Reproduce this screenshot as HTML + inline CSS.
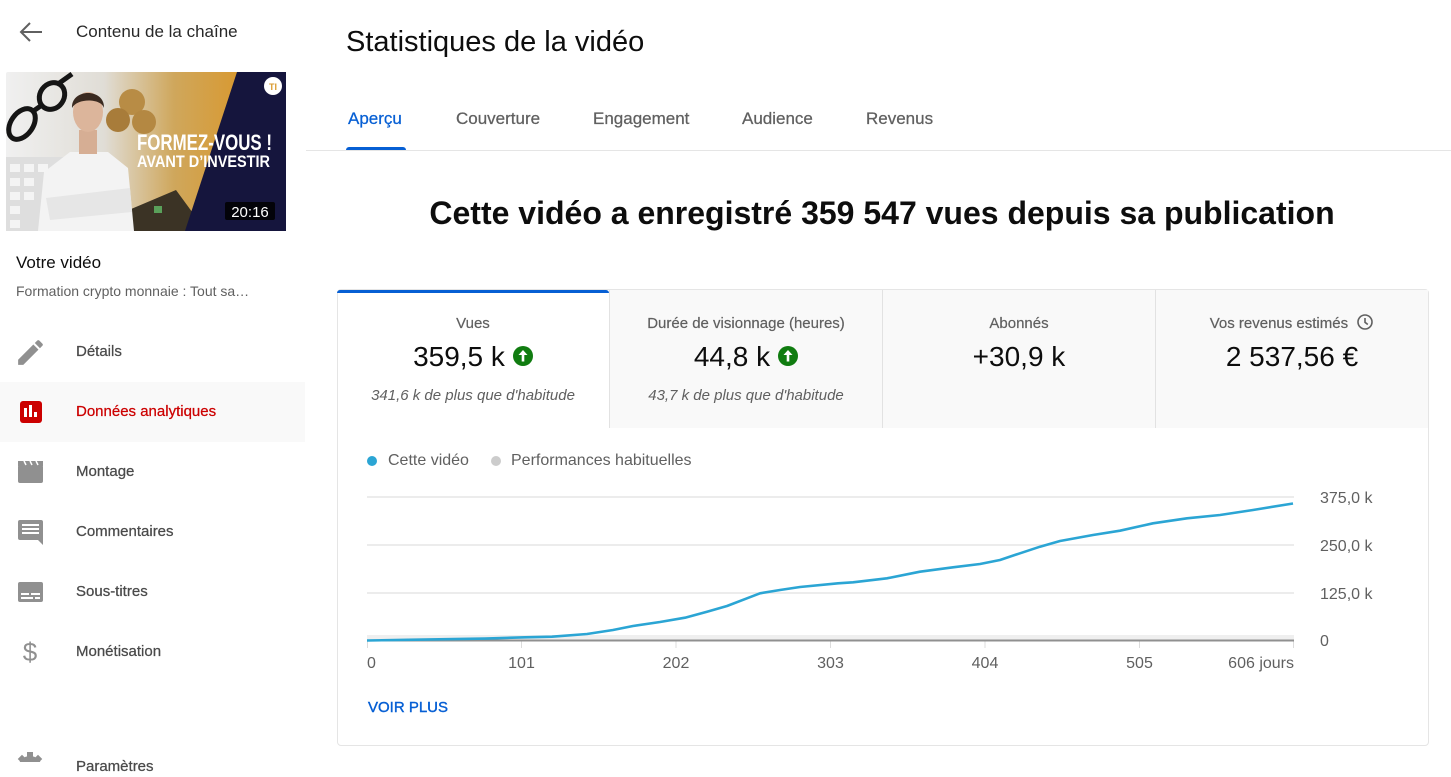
<!DOCTYPE html>
<html><head><meta charset="utf-8">
<style>
*{margin:0;padding:0;box-sizing:border-box}
body{width:1451px;height:762px;overflow:hidden;background:#fff;font-family:"Liberation Sans",Arial,sans-serif;position:relative;color:#0d0d0d}
.a{position:absolute;white-space:nowrap}
.t{position:absolute;white-space:nowrap;line-height:20px;height:20px}
.m{font-size:15px;color:#4a4a4a;-webkit-text-stroke:0.25px #4a4a4a}
.lab{font-size:15px;color:#606060;-webkit-text-stroke:0.2px #606060;text-align:center}
.val{font-size:28px;color:#0d0d0d;text-align:center;line-height:34px;height:34px}
.it{font-size:15px;color:#606060;font-style:italic;text-align:center}
.tab{font-size:17px;color:#606060;-webkit-text-stroke:0.25px #606060}
.up{display:inline-block;width:20px;height:20px;border-radius:50%;background:#107c10;vertical-align:middle;position:relative;top:-3px;margin-left:8px}
</style></head><body>

<!-- Sidebar -->
<svg class="a" style="left:0;top:0" width="305" height="762">
  <g stroke="#606060" stroke-width="2" fill="none">
    <line x1="21" y1="32" x2="42" y2="32"/>
    <polyline points="30,23 21,32 30,41"/>
  </g>
</svg>
<div class="t" style="left:76px;top:22px;font-size:17px;color:#282828">Contenu de la chaîne</div>

<!-- Thumbnail -->
<svg class="a" style="left:6px;top:72px" width="280" height="159" viewBox="0 0 280 159">
  <defs>
    <linearGradient id="bg" x1="0" y1="0" x2="1" y2="0">
      <stop offset="0" stop-color="#f0f0f0"/>
      <stop offset="0.35" stop-color="#e0ddd6"/>
      <stop offset="0.6" stop-color="#cfa75c"/>
      <stop offset="0.85" stop-color="#d9982e"/>
    </linearGradient>
  </defs>
  <rect width="280" height="159" rx="2" fill="url(#bg)"/>
  <!-- keyboard -->
  <rect x="0" y="85" width="70" height="74" fill="#dedede"/>
  <g fill="#f4f4f4">
    <rect x="4" y="92" width="10" height="8"/><rect x="18" y="92" width="10" height="8"/><rect x="32" y="92" width="10" height="8"/>
    <rect x="4" y="106" width="10" height="8"/><rect x="18" y="106" width="10" height="8"/>
    <rect x="4" y="120" width="10" height="8"/><rect x="18" y="120" width="10" height="8"/>
    <rect x="4" y="134" width="10" height="8"/><rect x="4" y="148" width="10" height="8"/>
  </g>
  <!-- glasses -->
  <g stroke="#151515" stroke-width="5" fill="none">
    <ellipse cx="16" cy="52" rx="11" ry="17" transform="rotate(35 16 52)"/>
    <ellipse cx="46" cy="24" rx="12" ry="14" transform="rotate(35 46 24)"/>
    <line x1="26" y1="40" x2="36" y2="33"/>
    <line x1="52" y1="12" x2="66" y2="2"/>
  </g>
  <!-- coins -->
  <circle cx="126" cy="30" r="13" fill="#b88c45"/>
  <circle cx="112" cy="48" r="12" fill="#a87c3a"/>
  <circle cx="138" cy="50" r="12" fill="#b48842"/>
  <!-- calculator -->
  <polygon points="118,140 170,118 200,159 122,159" fill="#3b3325"/>
  <rect x="148" y="134" width="8" height="7" fill="#5aa05a"/>
  <!-- person -->
  <polygon points="32,159 38,100 64,80 102,80 122,96 128,159" fill="#f3f3f3"/>
  <polygon points="40,126 124,116 126,140 44,148" fill="#e6e6e6"/>
  <rect x="73" y="58" width="18" height="24" fill="#d6ae94"/>
  <ellipse cx="82" cy="40" rx="15" ry="20" fill="#dcb59b"/>
  <path d="M66,36 C65,16 99,16 98,36 C95,26 71,26 66,36 Z" fill="#3a2a20"/>
  <!-- navy -->
  <polygon points="231,0 280,0 280,159 179,159" fill="#15153d"/>
  <text x="131" y="78" font-family="Liberation Sans, sans-serif" font-weight="bold" font-size="22" fill="#fff" textLength="135" lengthAdjust="spacingAndGlyphs">FORMEZ-VOUS !</text>
  <text x="131" y="95" font-family="Liberation Sans, sans-serif" font-weight="bold" font-size="17" fill="#fff" textLength="133" lengthAdjust="spacingAndGlyphs">AVANT D’INVESTIR</text>
  <rect x="219" y="130" width="50" height="18" rx="2" fill="rgba(0,0,0,0.85)"/>
  <text x="244" y="145" text-anchor="middle" font-family="Liberation Sans, sans-serif" font-size="15" fill="#fff">20:16</text>
  <circle cx="267" cy="14" r="9" fill="#fff"/>
  <text x="267" y="18" text-anchor="middle" font-family="Liberation Sans, sans-serif" font-weight="bold" font-size="9" fill="#d99a2e">TI</text>
</svg>

<div class="t" style="left:16px;top:253px;font-size:17px;color:#0d0d0d">Votre vidéo</div>
<div class="t" style="left:16px;top:281px;font-size:14px;color:#606060">Formation crypto monnaie : Tout sa…</div>

<div class="a" style="left:0;top:382px;width:305px;height:60px;background:#f9f9f9"></div>

<svg class="a" style="left:0;top:330px" width="60" height="432" viewBox="0 330 60 432">
  <svg x="14" y="336" width="33" height="33" viewBox="0 0 24 24"><path fill="#909090" d="M3 17.25V21h3.75L17.81 9.94l-3.75-3.75L3 17.25zM20.71 7.04c.39-.39.39-1.020 0-1.41l-2.34-2.34c-.39-.39-1.02-.39-1.41 0l-1.83 1.83 3.75 3.75 1.83-1.830z"/></svg>
  <rect x="20" y="401" width="22" height="22" rx="3" fill="#cc0000"/>
  <rect x="24" y="408" width="3" height="9" fill="#fff"/>
  <rect x="29" y="405" width="3" height="12" fill="#fff"/>
  <rect x="34" y="412" width="3" height="5" fill="#fff"/>
  <rect x="18" y="465" width="25" height="18" rx="2" fill="#909090"/>
  <rect x="18" y="461" width="25" height="5" fill="#909090"/>
  <g stroke="#fff" stroke-width="1.5"><line x1="24" y1="461" x2="26" y2="465"/><line x1="30" y1="461" x2="32" y2="465"/><line x1="36" y1="461" x2="38" y2="465"/></g>
  <path d="M20,520 H41 a2,2 0 0 1 2,2 V545 L38,540 H20 a2,2 0 0 1 -2,-2 V522 a2,2 0 0 1 2,-2 Z" fill="#909090"/>
  <g fill="#fff"><rect x="22" y="524" width="17" height="2"/><rect x="22" y="528" width="17" height="2"/><rect x="22" y="532" width="17" height="2"/></g>
  <rect x="18" y="582" width="25" height="20" rx="2" fill="#909090"/>
  <g fill="#fff"><rect x="21" y="593" width="8" height="2"/><rect x="31" y="593" width="9" height="2"/><rect x="21" y="597" width="12" height="2"/><rect x="35" y="597" width="5" height="2"/></g>
  <text x="30" y="661" text-anchor="middle" font-family="Liberation Sans, sans-serif" font-size="26" fill="#909090">$</text>
  <circle cx="30" cy="768" r="12" fill="#909090"/>
  <g fill="#909090"><rect x="27" y="752" width="6" height="6"/><rect x="16" y="765" width="6" height="6"/><rect x="38" y="765" width="6" height="6"/><rect x="19" y="756" width="6" height="6" transform="rotate(45 22 759)"/><rect x="35" y="756" width="6" height="6" transform="rotate(45 38 759)"/></g>
</svg>

<div class="t m" style="left:76px;top:342px">Détails</div>
<div class="t m" style="left:76px;top:402px;color:#cc0000;-webkit-text-stroke:0.25px #cc0000">Données analytiques</div>
<div class="t m" style="left:76px;top:462px">Montage</div>
<div class="t m" style="left:76px;top:522px">Commentaires</div>
<div class="t m" style="left:76px;top:582px">Sous-titres</div>
<div class="t m" style="left:76px;top:642px">Monétisation</div>
<div class="t m" style="left:76px;top:757px">Paramètres</div>

<!-- Header -->
<div class="a" style="left:346px;top:25px;font-size:29px;line-height:34px;color:#0d0d0d">Statistiques de la vidéo</div>

<div class="t tab" style="left:348px;top:109px;color:#065fd4;-webkit-text-stroke:0.25px #065fd4">Aperçu</div>
<div class="t tab" style="left:456px;top:109px">Couverture</div>
<div class="t tab" style="left:593px;top:109px">Engagement</div>
<div class="t tab" style="left:742px;top:109px">Audience</div>
<div class="t tab" style="left:866px;top:109px">Revenus</div>
<div class="a" style="left:346px;top:147px;width:60px;height:3px;background:#065fd4;border-radius:3px 3px 0 0"></div>
<div class="a" style="left:306px;top:150px;width:1145px;height:1px;background:#e5e5e5"></div>

<div class="a" style="left:282px;top:194px;width:1200px;text-align:center;font-size:32px;line-height:38px;font-weight:bold;color:#0d0d0d">Cette vidéo a enregistré 359 547 vues depuis sa publication</div>

<!-- Card -->
<div class="a" style="left:337px;top:289px;width:1092px;height:457px;border:1px solid #e5e5e5;border-radius:4px"></div>
<div class="a" style="left:609px;top:290px;width:819px;height:138px;background:#f9f9f9"></div>
<div class="a" style="left:337px;top:290px;width:272px;height:3px;background:#065fd4;border-radius:3px 3px 0 0"></div>
<div class="a" style="left:609px;top:290px;width:1px;height:138px;background:#e2e2e2"></div>
<div class="a" style="left:882px;top:290px;width:1px;height:138px;background:#e2e2e2"></div>
<div class="a" style="left:1155px;top:290px;width:1px;height:138px;background:#e2e2e2"></div>

<div class="t lab" style="left:337px;width:272px;top:314px">Vues</div>
<div class="t val" style="left:337px;width:272px;top:340px">359,5 k<span class="up"><svg width="20" height="20" viewBox="0 0 20 20" style="position:absolute;left:0;top:0"><path d="M10 4 L14.5 9 H11.3 V15.5 H8.7 V9 H5.5 Z" fill="#fff"/></svg></span></div>
<div class="t it" style="left:337px;width:272px;top:386px">341,6 k de plus que d'habitude</div>

<div class="t lab" style="left:610px;width:272px;top:314px">Durée de visionnage (heures)</div>
<div class="t val" style="left:610px;width:272px;top:340px">44,8 k<span class="up"><svg width="20" height="20" viewBox="0 0 20 20" style="position:absolute;left:0;top:0"><path d="M10 4 L14.5 9 H11.3 V15.5 H8.7 V9 H5.5 Z" fill="#fff"/></svg></span></div>
<div class="t it" style="left:610px;width:272px;top:386px">43,7 k de plus que d'habitude</div>

<div class="t lab" style="left:883px;width:272px;top:314px">Abonnés</div>
<div class="t val" style="left:883px;width:272px;top:340px">+30,9 k</div>

<div class="t lab" style="left:1156px;width:272px;top:314px">Vos revenus estimés <svg width="18" height="18" viewBox="0 0 18 18" style="vertical-align:middle;position:relative;top:-2px;margin-left:4px"><circle cx="9" cy="9" r="7" fill="none" stroke="#606060" stroke-width="1.6"/><path d="M9 5 V9.3 L11.8 11.5" fill="none" stroke="#606060" stroke-width="1.6"/></svg></div>
<div class="t val" style="left:1156px;width:272px;top:340px">2 537,56 €</div>

<!-- Chart -->
<svg class="a" style="left:0;top:0" width="1451" height="762">
  <circle cx="372" cy="461" r="5" fill="#2ba5d4"/>
  <circle cx="496" cy="461" r="5" fill="#cccccc"/>
  <g stroke="#e6e6e6" stroke-width="1.5">
    <line x1="367" y1="497" x2="1294" y2="497"/>
    <line x1="367" y1="545" x2="1294" y2="545"/>
    <line x1="367" y1="593" x2="1294" y2="593"/>
  </g>
  <rect x="367" y="635" width="927" height="5" fill="#efefef"/>
  <g stroke="#dcdcdc" stroke-width="1">
    <line x1="367.5" y1="641" x2="367.5" y2="648"/>
    <line x1="521.5" y1="641" x2="521.5" y2="648"/>
    <line x1="676" y1="641" x2="676" y2="648"/>
    <line x1="830.5" y1="641" x2="830.5" y2="648"/>
    <line x1="985" y1="641" x2="985" y2="648"/>
    <line x1="1139.5" y1="641" x2="1139.5" y2="648"/>
    <line x1="1293.5" y1="641" x2="1293.5" y2="648"/>
  </g>
  <line x1="367" y1="640.5" x2="1294" y2="640.5" stroke="#909090" stroke-width="2"/>
  <polyline fill="none" stroke="#2ba5d4" stroke-width="2.6" stroke-linejoin="round" points="367,640.5 408,639.8 485,638.6 525,637.3 552,636.7 587,634 613,630 633,626 660,622 685,617.7 707,611.7 727,606 747,598.3 760,593.3 780,590 800,587 838,583.3 853,582.3 887,578.3 920,571.7 953,567.3 980,564 1000,560 1020,553.3 1040,546.7 1060,541 1093,535 1120,530.7 1153,523.3 1187,518.3 1220,515 1253,510 1293,503.5"/>
  <g font-family="Liberation Sans, sans-serif" font-size="16" fill="#606060">
    <text x="367" y="668">0</text>
    <text x="521.5" y="668" text-anchor="middle">101</text>
    <text x="676" y="668" text-anchor="middle">202</text>
    <text x="830.5" y="668" text-anchor="middle">303</text>
    <text x="985" y="668" text-anchor="middle">404</text>
    <text x="1139.5" y="668" text-anchor="middle">505</text>
    <text x="1294" y="668" text-anchor="end">606 jours</text>
    <text x="1320" y="503">375,0 k</text>
    <text x="1320" y="551">250,0 k</text>
    <text x="1320" y="599">125,0 k</text>
    <text x="1320" y="646">0</text>
  </g>
</svg>
<div class="t" style="left:388px;top:451px;font-size:16px;color:#606060">Cette vidéo</div>
<div class="t" style="left:511px;top:451px;font-size:16px;color:#606060">Performances habituelles</div>

<div class="t" style="left:368px;top:698px;font-size:15px;color:#065fd4;-webkit-text-stroke:0.4px #065fd4">VOIR PLUS</div>

</body></html>
